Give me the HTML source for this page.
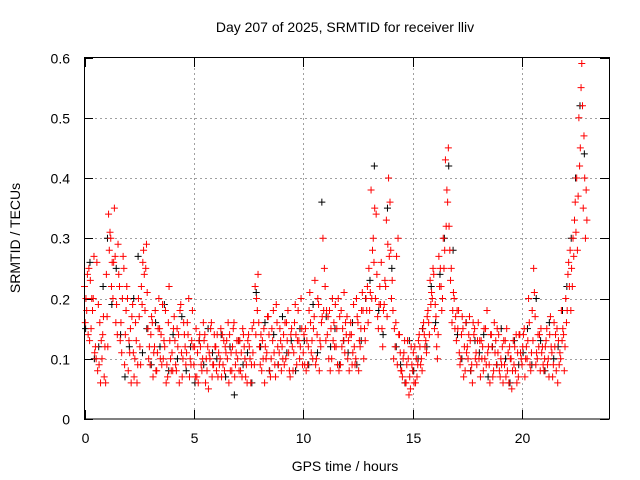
<!DOCTYPE html>
<html><head><meta charset="utf-8"><style>
html,body{margin:0;padding:0;background:#fff}
svg{display:block;font-family:"Liberation Sans",sans-serif}
</style></head><body>
<svg id="chart" width="640" height="480" viewBox="0 0 640 480" xmlns="http://www.w3.org/2000/svg">
<rect width="640" height="480" fill="#fff"/>
<text x="345" y="32" text-anchor="middle" font-size="14">Day 207 of 2025, SRMTID for receiver lliv</text>
<text x="345" y="471" text-anchor="middle" font-size="14">GPS time / hours</text>
<text transform="translate(20,238) rotate(-90)" text-anchor="middle" font-size="14">SRMTID / TECUs</text>
<g id="grid"></g>
<g id="ticks"></g>
<g id="black"></g>
<g id="red"></g>
<rect x="84.5" y="57.5" width="525" height="361.5" fill="none" stroke="#000" stroke-width="1"/>
</svg>
<script>
const xTicks=[0,5,10,15,20];
const xTickLabels=["0","5","10","15","20"];
const yTicks=[0,0.1,0.2,0.3,0.4,0.5,0.6];
const yTickLabels=["0","0.1","0.2","0.3","0.4","0.5","0.6"];
// values in hundredths of TECU, red sampled every 0.1 h, black every 0.2 h
const redA=[22,18,25,15,20,12,8,16,10,7,24,34,30,20,27,14,22,11,25,18,8,15,19,10,6,17,22,28,25,15,9,16,12,8,20,14,10,18,7,13,11,17,8,14,19,10,12,16,7,13,9,15,6,12,10,14,8,11,16,9,12,7,10,14,8,13,6,11,15,9,10,13,7,12,9,14,6,11,22,18,12,8,15,10,17,7,13,9,16,11,8,14,10,18,7,12,16,9,13,20,11,15,9,21,13,17,10,19,12,30,22,14,18,10,16,12,20,9,15,11,17,8,14,19,10,16,12,21,15,18,25,38,30,20,17,22,15,19,33,40,28,18,12,9,14,8,11,6,10,5,8,12,7,14,10,16,13,18,23,20,15,12,27,22,30,43,36,28,16,20,13,18,10,15,8,12,17,9,14,11,16,7,12,10,18,9,14,8,13,11,7,12,9,15,6,10,13,8,11,14,9,15,12,20,8,13,17,10,14,11,8,13,10,17,7,12,15,9,18,14,20,24,28,22,33,40,50,55,35,30];
const redB=[16,24,13,20,27,10,19,6,14,12,17,28,22,26,16,29,13,20,9,22,13,6,11,16,9,12,19,24,29,10,14,7,18,11,15,9,13,6,16,10,8,13,15,6,11,16,9,14,10,18,12,7,13,9,16,6,12,10,7,14,8,11,15,9,12,10,14,8,16,11,13,8,15,10,6,12,9,16,14,24,9,13,6,11,14,10,18,7,12,15,12,9,16,11,14,8,19,13,10,15,14,8,12,16,10,23,14,8,16,18,13,17,8,20,12,15,8,18,13,16,10,14,9,12,20,8,15,18,13,22,18,20,26,34,15,19,12,23,17,27,20,10,16,30,11,7,13,9,4,12,11,6,9,12,8,14,11,16,19,25,19,10,22,18,25,32,45,23,18,15,18,11,14,7,16,10,13,6,15,9,10,13,8,15,11,6,12,16,9,14,10,6,13,8,12,5,9,14,7,11,12,7,10,16,11,25,9,14,8,12,10,15,7,12,9,14,6,11,13,8,16,26,18,30,36,28,42,59,47,38];
const redC=[20,14,23,18,11,26,9,13,17,6,12,31,26,35,19,24,16,27,14,20,11,17,7,13,20,9,26,18,21,12,17,11,8,15,10,19,12,9,22,8,15,9,12,18,7,14,11,20,9,12,7,11,14,8,13,10,5,15,9,12,14,9,7,13,11,16,8,12,7,13,8,11,14,7,13,10,15,9,20,16,14,10,12,17,8,15,11,19,9,13,10,16,13,8,15,11,14,18,12,9,9,13,18,11,15,9,20,13,17,25,18,10,15,13,19,9,17,12,21,14,13,16,11,9,17,13,18,10,20,16,21,28,35,24,19,26,18,22,29,36,23,15,27,14,8,10,6,13,7,9,6,10,13,9,15,12,17,14,21,24,17,14,25,20,28,38,32,25,21,17,15,9,17,12,11,14,8,16,10,13,13,10,15,9,12,14,7,11,15,8,9,13,7,11,10,8,12,6,14,10,14,10,13,9,18,21,11,12,15,9,12,9,14,11,16,8,13,10,15,12,18,22,25,27,31,37,45,52,40,33];
const blackS=[15,26,10,12,22,30,19,25,14,7,12,20,27,11,15,9,16,12,19,8,14,10,17,8,12,6,13,9,15,11,10,14,7,12,4,13,9,11,6,21,12,16,8,14,9,17,11,13,8,15,13,9,19,11,36,17,12,15,9,13,11,16,9,13,20,23,42,18,14,35,25,12,9,6,13,8,10,15,12,22,16,24,30,42,28,14,10,16,8,13,11,14,7,12,9,15,10,6,13,9,11,15,9,20,13,8,16,10,12,18,22,30,40,52,44];
const NS="http://www.w3.org/2000/svg";
function xS(h){return 84.5+h*525/24;}
function yS(v){return 419-v*361.5/0.6;}
function yH(c){return yS(c/100);}
const grid=document.getElementById('grid'),ticks=document.getElementById('ticks');
function ln(p,x1,y1,x2,y2,st,dash){const l=document.createElementNS(NS,'line');l.setAttribute('x1',x1);l.setAttribute('y1',y1);l.setAttribute('x2',x2);l.setAttribute('y2',y2);l.setAttribute('stroke',st);if(dash)l.setAttribute('stroke-dasharray',dash);p.appendChild(l);return l;}
xTicks.forEach((t,i)=>{const x=Math.round(xS(t))+0.5;
 if(t>0){const g=ln(grid,x,58,x,419,'#a0a0a0','2,3');
 
 }
 const a=ln(ticks,x,419,x,410,'#000');
 
 
 const b=ln(ticks,x,58,x,67,'#000');
 
 
 const tx=document.createElementNS(NS,'text');tx.setAttribute('x',x);tx.setAttribute('y',443);tx.setAttribute('text-anchor','middle');tx.setAttribute('font-size','14');tx.textContent=xTickLabels[i];
 
 
 ticks.appendChild(tx);});
yTicks.forEach((t,i)=>{const y=Math.round(yS(t))+0.5;
 if(t>0&&t<0.6){const g=ln(grid,85,y,609,y,'#a0a0a0','2,3');
 
 }
 const a=ln(ticks,84,y,93,y,'#000');
 
 
 const b=ln(ticks,600,y,609,y,'#000');
 
 
 const tx=document.createElementNS(NS,'text');tx.setAttribute('x',70);tx.setAttribute('y',y+5);tx.setAttribute('text-anchor','end');tx.setAttribute('font-size','14');tx.textContent=yTickLabels[i];
 
 
 ticks.appendChild(tx);});
function plus(g,x,y,c){const p=document.createElementNS(NS,'path');p.setAttribute('d','M'+(x-3.5)+' '+y+'h7M'+x+' '+(y-3.5)+'v7');p.setAttribute('stroke',c);p.setAttribute('stroke-width','1');
 
 
 g.appendChild(p);}
const gb=document.getElementById('black'),gr=document.getElementById('red');
blackS.forEach((v,i)=>plus(gb,xS(i*0.2+0.05),yH(v),'#000'));
redA.forEach((v,i)=>plus(gr,xS(i*0.1),yH(v),'#f00'));
redB.forEach((v,i)=>plus(gr,xS(i*0.1+0.033),yH(v),'#f00'));
redC.forEach((v,i)=>plus(gr,xS(i*0.1+0.066),yH(v),'#f00'));
</script>
</body></html>
